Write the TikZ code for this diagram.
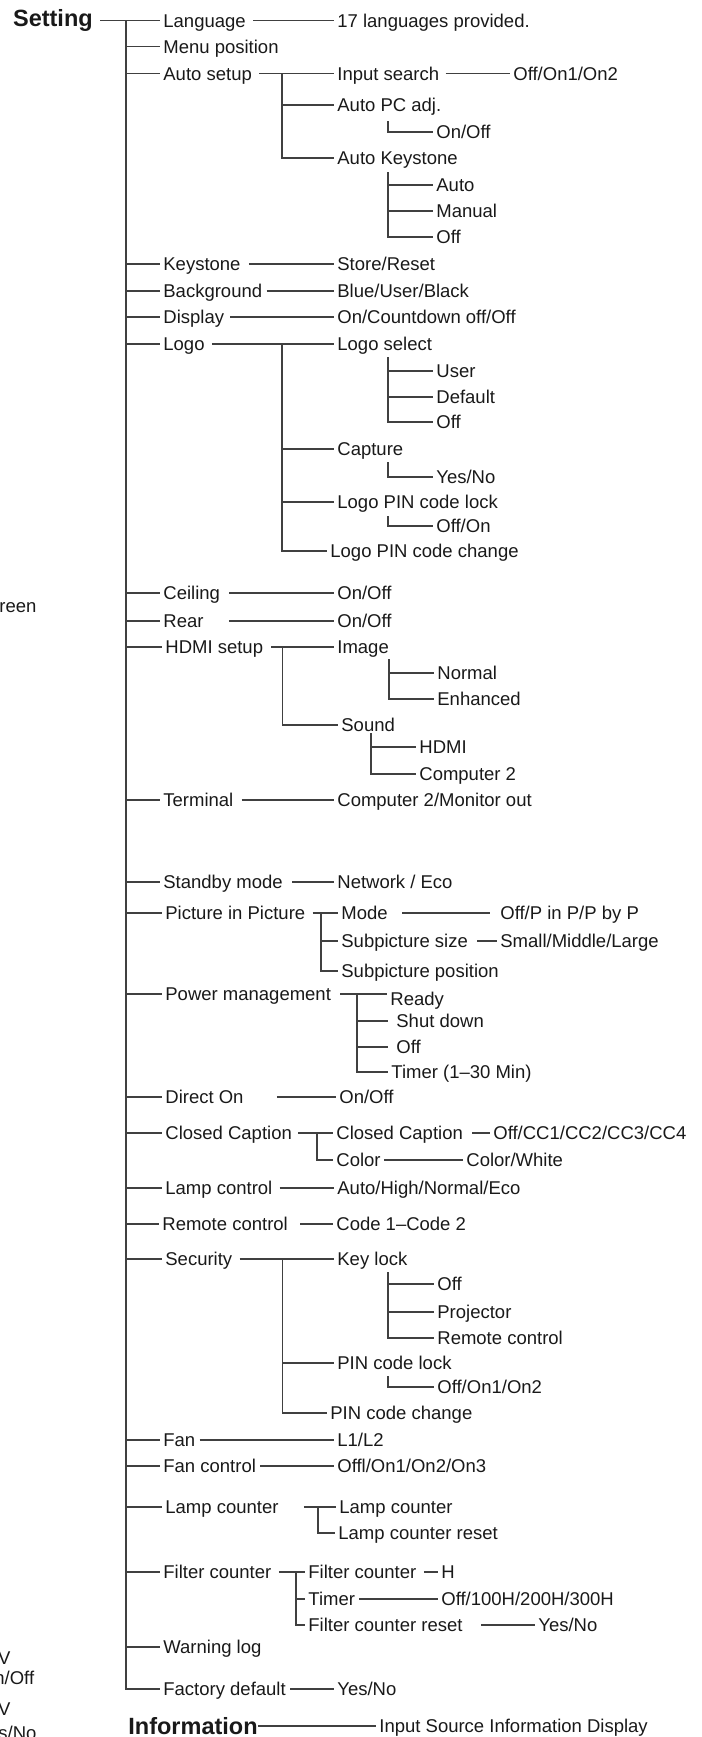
\documentclass[tikz,border=0pt]{standalone}
\usepackage{fontspec}
\setmainfont{Liberation Sans}
\usetikzlibrary{positioning}

\tikzset{
  item/.style={anchor=west, inner xsep=1.5pt, inner ysep=0pt, text height=6.62pt, text depth=0pt,
    font=\fontsize{9.25pt}{11pt}\selectfont, text=black!90},
  head/.style={item, inner xsep=0pt, text height=8.41pt, font=\fontsize{11.75pt}{14pt}\selectfont\bfseries},
  wire/.style={draw=black!75, line width=0.6pt},
}

\begin{document}
\begin{tikzpicture}[x=0.5pt, y=-0.5pt]
    \useasboundingbox (0,0) rectangle (702,1737);

    % fragments cut by the page edge
    \node[item, inner xsep=0pt] (frag1) at (-1,606) {reen};
    \node[item, inner xsep=0pt] (frag2) at (-2.3,1658) {V};
    \node[item, inner xsep=0pt] (frag3) at (-6,1678) {n/Off};
    \node[item, inner xsep=0pt] (frag4) at (-2.3,1709) {V};
    \node[item, inner xsep=0pt] (frag5) at (-2,1733) {s/No};

    % headings
    \node[head] (setting) at (12.7,18.5) {Setting};
    \node[head] (info) at (128,1726) {Information};
    \node[item] (infoval) at (376,1726) {Input Source Information Display};
    \draw[wire] (info.east) -- (infoval.west);

    % first level
    \coordinate (trunk) at (126,20.7);
    \node[item] (lang) at (160,20.7) {Language};
    \node[item] (menu) at (160,46.7) {Menu position};
    \node[item] (autosetup) at (160,73.5) {Auto setup};
    \node[item] (keystone) at (160,264) {Keystone};
    \node[item] (background) at (160,291) {Background};
    \node[item] (display) at (160,317) {Display};
    \node[item] (logo) at (160,344) {Logo};
    \node[item] (ceiling) at (160,593) {Ceiling};
    \node[item] (rear) at (160,621) {Rear};
    \node[item] (hdmi) at (162,647) {HDMI setup};
    \node[item] (terminal) at (160,800) {Terminal};
    \node[item] (standby) at (160,882) {Standby mode};
    \node[item] (pip) at (162,913) {Picture in Picture};
    \node[item] (power) at (162,994) {Power management};
    \node[item] (directon) at (162,1097) {Direct On};
    \node[item] (cc) at (162,1133) {Closed Caption};
    \node[item] (lampctl) at (162,1188) {Lamp control};
    \node[item] (remote) at (159,1224) {Remote control};
    \node[item] (security) at (162,1259) {Security};
    \node[item] (fan) at (160,1440) {Fan};
    \node[item] (fanctl) at (160,1466) {Fan control};
    \node[item] (lampcnt) at (162,1507) {Lamp counter};
    \node[item] (filter) at (160,1572) {Filter counter};
    \node[item] (warning) at (160,1647) {Warning log};
    \node[item] (factory) at (160,1689) {Factory default};

    \draw[wire] (setting.east |- lang.west) ++(7,0) -- (lang.west);
    \draw[wire] (trunk) |- (factory.west);
    \foreach \n in {menu,autosetup,keystone,background,display,logo,ceiling,rear,hdmi,terminal,
                    standby,pip,power,directon,cc,lampctl,remote,security,fan,fanctl,lampcnt,filter,warning}
        \draw[wire] (trunk |- \n.west) -- (\n.west);

    % single values
    \node[item] (langval) at (334,20.7) {17 languages provided.};
    \node[item] (keystoneval) at (334,264) {Store/Reset};
    \node[item] (backgroundval) at (334,291) {Blue/User/Black};
    \node[item] (displayval) at (334,317) {On/Countdown off/Off};
    \node[item] (ceilingval) at (334,593) {On/Off};
    \node[item] (rearval) at (334,621) {On/Off};
    \node[item] (terminalval) at (334,800) {Computer 2/Monitor out};
    \node[item] (standbyval) at (334,882) {Network / Eco};
    \node[item] (directonval) at (336,1097) {On/Off};
    \node[item] (lampctlval) at (334,1188) {Auto/High/Normal/Eco};
    \node[item] (remoteval) at (333,1224) {Code 1–Code 2};
    \node[item] (fanval) at (334,1440) {L1/L2};
    \node[item] (fanctlval) at (334,1466) {Offl/On1/On2/On3};
    \node[item] (factoryval) at (334,1689) {Yes/No};

    \draw[wire] (lang.east) ++(4,0) -- (langval.west);
    \draw[wire] (keystone.east) ++(5,0) -- (keystoneval.west);
    \draw[wire] (background.east) ++(1,0) -- (backgroundval.west);
    \draw[wire] (display.east) ++(3,0) -- (displayval.west);
    \draw[wire] (ceiling.east) ++(6,0) -- (ceilingval.west);
    \draw[wire] (rear.east) ++(22,0) -- (rearval.west);
    \draw[wire] (terminal.east) ++(5,0) -- (terminalval.west);
    \draw[wire] (standby.east) ++(6,0) -- (standbyval.west);
    \draw[wire] (directon.east) ++(30,0) -- (directonval.west);
    \draw[wire] (lampctl.east) ++(4,0) -- (lampctlval.west);
    \draw[wire] (remote.east) ++(9,0) -- (remoteval.west);
    \draw[wire] (fan.east) ++(1,0) -- (fanval.west);
    \draw[wire] (fanctl.east) ++(1,0) -- (fanctlval.west);
    \draw[wire] (factory.east) ++(1,0) -- (factoryval.west);

    % Auto setup
    \node[item] (inputsearch) at (334,73.5) {Input search};
    \node[item] (inputval) at (510,73.5) {Off/On1/On2};
    \node[item] (autopc) at (334,105) {Auto PC adj.};
    \node[item] (autopcval) at (433,132) {On/Off};
    \node[item] (autokey) at (334,158) {Auto Keystone};
    \node[item] (akauto) at (433,185) {Auto};
    \node[item] (akmanual) at (433,211) {Manual};
    \node[item] (akoff) at (433,237) {Off};
    \coordinate (autobar) at (282,73.5);
    \coordinate (autopcbar) at (388,121);
    \coordinate (autokeybar) at (388,172);
    \draw[wire] (autosetup.east) ++(4,0) -- (inputsearch.west);
    \draw[wire] (inputsearch.east) ++(3,0) -- (inputval.west);
    \draw[wire] (autobar) |- (autokey.west);
    \draw[wire] (autobar |- autopc.west) -- (autopc.west);
    \draw[wire] (autopcbar) |- (autopcval.west);
    \draw[wire] (autokeybar) |- (akoff.west);
    \foreach \n in {akauto,akmanual}
        \draw[wire] (autokeybar |- \n.west) -- (\n.west);

    % Logo
    \node[item] (logosel) at (334,344) {Logo select};
    \node[item] (lsuser) at (433,371) {User};
    \node[item] (lsdefault) at (433,397) {Default};
    \node[item] (lsoff) at (433,422) {Off};
    \node[item] (capture) at (334,449) {Capture};
    \node[item] (captureval) at (433,477) {Yes/No};
    \node[item] (logopin) at (334,502) {Logo PIN code lock};
    \node[item] (logopinval) at (433,526) {Off/On};
    \node[item] (logochange) at (327,551) {Logo PIN code change};
    \coordinate (logobar) at (282,344);
    \coordinate (logoselbar) at (388,357);
    \coordinate (capturebar) at (388,462);
    \coordinate (logopinbar) at (388,516);
    \draw[wire] (logo.east) ++(4,0) -- (logosel.west);
    \draw[wire] (logobar) |- (logochange.west);
    \foreach \n in {capture,logopin}
        \draw[wire] (logobar |- \n.west) -- (\n.west);
    \draw[wire] (logoselbar) |- (lsoff.west);
    \foreach \n in {lsuser,lsdefault}
        \draw[wire] (logoselbar |- \n.west) -- (\n.west);
    \draw[wire] (capturebar) |- (captureval.west);
    \draw[wire] (logopinbar) |- (logopinval.west);

    % HDMI setup
    \node[item] (image) at (334,647) {Image};
    \node[item] (normal) at (434,673) {Normal};
    \node[item] (enhanced) at (434,699) {Enhanced};
    \node[item] (sound) at (338,725) {Sound};
    \node[item] (hdmisrc) at (416,747) {HDMI};
    \node[item] (comp2) at (416,774) {Computer 2};
    \coordinate (hdmibar) at (282.5,647);
    \coordinate (imagebar) at (389,659);
    \coordinate (soundbar) at (371,733);
    \draw[wire] (hdmi.east) ++(5,0) -- (image.west);
    \draw[wire] (hdmibar) |- (sound.west);
    \draw[wire] (imagebar) |- (enhanced.west);
    \draw[wire] (imagebar |- normal.west) -- (normal.west);
    \draw[wire] (soundbar) |- (comp2.west);
    \draw[wire] (soundbar |- hdmisrc.west) -- (hdmisrc.west);

    % Picture in Picture
    \node[item] (mode) at (338,913) {Mode};
    \node[item] (modeval) at (497,913) {Off/P in P/P by P};
    \node[item] (subsize) at (338,941) {Subpicture size};
    \node[item] (subsizeval) at (497,941) {Small/Middle/Large};
    \node[item] (subpos) at (338,971) {Subpicture position};
    \coordinate (pipbar) at (321,913);
    \draw[wire] (pip.east) ++(4,0) -- (mode.west);
    \draw[wire] (pipbar) |- (subpos.west);
    \draw[wire] (pipbar |- subsize.west) -- (subsize.west);
    \draw[wire] (mode.east) ++(11,0) -- ([xshift=-3.5pt]modeval.west);
    \draw[wire] (subsize.east) ++(6,0) -- (subsizeval.west);

    % Power management
    \node[item] (ready) at (387,999) {Ready};
    \node[item, inner xsep=4pt] (shutdown) at (388,1021) {Shut down};
    \node[item, inner xsep=4pt] (poweroff) at (388,1047) {Off};
    \node[item] (timer30) at (388,1072) {Timer (1–30 Min)};
    \coordinate (powerbar) at (357,994);
    \draw[wire] (power.east) ++(6,0) -- (ready.west |- power.east);
    \draw[wire] (powerbar) |- (timer30.west);
    \foreach \n in {shutdown,poweroff}
        \draw[wire] (powerbar |- \n.west) -- (\n.west);

    % Closed Caption
    \node[item] (ccsub) at (333,1133) {Closed Caption};
    \node[item] (ccsubval) at (490,1133) {Off/CC1/CC2/CC3/CC4};
    \node[item] (cccolor) at (333,1160) {Color};
    \node[item] (cccolorval) at (463,1160) {Color/White};
    \coordinate (ccbar) at (317,1133);
    \draw[wire] (cc.east) ++(3,0) -- (ccsub.west);
    \draw[wire] (ccbar) |- (cccolor.west);
    \draw[wire] (ccsub.east) ++(6,0) -- (ccsubval.west);
    \draw[wire] (cccolor.east) -- (cccolorval.west);

    % Security
    \node[item] (keylock) at (334,1259) {Key lock};
    \node[item] (kloff) at (434,1284) {Off};
    \node[item] (klproj) at (434,1312) {Projector};
    \node[item] (klremote) at (434,1338) {Remote control};
    \node[item] (pinlock) at (334,1363) {PIN code lock};
    \node[item] (pinlockval) at (434,1387) {Off/On1/On2};
    \node[item] (pinchange) at (327,1413) {PIN code change};
    \coordinate (secbar) at (282.5,1259);
    \coordinate (keylockbar) at (388,1272);
    \coordinate (pinlockbar) at (388,1376);
    \draw[wire] (security.east) ++(4,0) -- (keylock.west);
    \draw[wire] (secbar) |- (pinchange.west);
    \draw[wire] (secbar |- pinlock.west) -- (pinlock.west);
    \draw[wire] (keylockbar) |- (klremote.west);
    \foreach \n in {kloff,klproj}
        \draw[wire] (keylockbar |- \n.west) -- (\n.west);
    \draw[wire] (pinlockbar) |- (pinlockval.west);

    % Lamp counter
    \node[item] (lcsub) at (336,1507) {Lamp counter};
    \node[item] (lcreset) at (335,1533) {Lamp counter reset};
    \coordinate (lcbar) at (318,1507);
    \draw[wire] (lampcnt.east) ++(22,0) -- (lcsub.west);
    \draw[wire] (lcbar) |- (lcreset.west);

    % Filter counter
    \node[item] (fcsub) at (305,1572) {Filter counter};
    \node[item] (fchours) at (438,1572) {H};
    \node[item] (fctimer) at (305,1599) {Timer};
    \node[item] (fctimerval) at (438,1599) {Off/100H/200H/300H};
    \node[item] (fcreset) at (305,1625) {Filter counter reset};
    \node[item] (fcresetval) at (535,1625) {Yes/No};
    \coordinate (fcbar) at (296,1572);
    \draw[wire] (filter.east) ++(4,0) -- (fcsub.west);
    \draw[wire] (fcbar) |- (fcreset.west);
    \draw[wire] (fcbar |- fctimer.west) -- (fctimer.west);
    \draw[wire] (fcsub.east) ++(4,0) -- (fchours.west);
    \draw[wire] (fctimer.east) ++(1,0) -- (fctimerval.west);
    \draw[wire] (fcreset.east) ++(15,0) -- (fcresetval.west);
\end{tikzpicture}
\end{document}
